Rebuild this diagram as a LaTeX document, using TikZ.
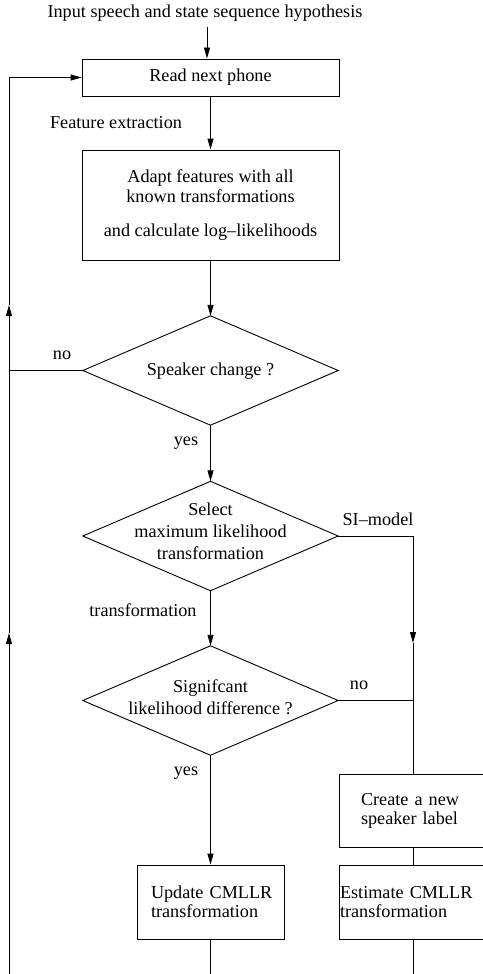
\documentclass[tikz,border=0pt]{standalone}
\usepackage{fontspec}
\setmainfont{Liberation Serif}
\usetikzlibrary{arrows.meta}
\begin{document}
\hyphenpenalty=10000
\exhyphenpenalty=10000
\begin{tikzpicture}[x=1pt,y=-1pt,
  ln/.style={line width=0.9pt},
  arr/.style={ln,-{Triangle[length=11pt,width=6pt]}},
  box/.style={draw,ln,rectangle,inner sep=0pt,font=\fontsize{18.2}{20}\selectfont,align=center},
  rbox/.style={draw,ln,rectangle,inner sep=0pt,font=\fontsize{18.2}{19}\selectfont,align=left},
  dia/.style={rectangle,inner sep=0pt,minimum width=255pt,minimum height=109pt},
  txt/.style={inner sep=0pt,font=\fontsize{18.2}{22}\selectfont,align=center},
  lbl/.style={inner sep=0pt,font=\fontsize{18.2}{20}\selectfont}]
\useasboundingbox (0,0) rectangle (482,974);

\node[lbl] (inp) at (205,13) {Input speech and state sequence hypothesis};
\node[box,minimum width=257pt,minimum height=37pt] (read) at (210.5,77.5) {Read next phone};
\node[lbl] (fe) at (116,123) {Feature extraction};
\node[box,minimum width=257pt,minimum height=110pt] (adapt) at (210.5,205) {Adapt features with all\\known transformations\\[14pt]and calculate log--likelihoods};

\node[dia] (sc) at (210.5,370.5) {};
\node[txt] (sct) at (210.5,371) {Speaker change ?};
\node[dia] (sel) at (210.5,536) {};
\node[txt] (selt) at (210.5,531) {Select\\maximum likelihood\\transformation};
\node[dia] (sig) at (210.5,700.5) {};
\node[txt] (sigt) at (210.5,697) {Signifcant\\likelihood difference ?};
\foreach \d in {sc,sel,sig}
  \draw[ln] (\d.north) -- (\d.east) -- (\d.south) -- (\d.west) -- cycle;

\node[lbl] (no1) at (62,355) {no};
\node[lbl] (yes1) at (186,443) {yes};
\node[lbl] (sim) at (378,519) {SI--model};
\node[lbl] (tr) at (143,610) {transformation};
\node[lbl] (no2) at (359,685) {no};
\node[lbl] (yes2) at (186,773) {yes};

\node[rbox,minimum width=147pt,minimum height=74pt,text width=119pt] (upd) at (210.5,902) {Update~CMLLR\\transformation};
\node[rbox,minimum width=148pt,minimum height=73pt,text width=104pt] (create) at (413,810.5) {Create~a~new\\speaker~label};
\node[rbox,minimum width=148pt,minimum height=74pt,text width=146pt] (est) at (413,902) {Estimate~CMLLR\\transformation};

\coordinate (inA) at (207,27);
\draw[arr] (inA) -- (inA |- read.north);
\draw[arr] (read.south) -- (adapt.north);
\draw[arr] (adapt.south) -- (sc.north);
\draw[arr] (sc.south) -- (sel.north);
\draw[arr] (sel.south) -- (sig.north);
\draw[arr] (sig.south) -- (upd.north);

\coordinate (r1) at (413,536);
\coordinate (r2) at (413,643);
\draw[arr] (sel.east) -- (r1) -- (r2);
\draw[ln] (r2) -- (create.north);
\draw[ln] (sig.east) -- (sig.east -| r1);
\draw[ln] (create.south) -- (est.north);

\coordinate (b1) at (210.5,974);
\coordinate (b2) at (413,974);
\draw[ln] (upd.south) -- (b1);
\draw[ln] (est.south) -- (b2);

\coordinate (l0) at (9,974);
\coordinate (l1) at (9,633);
\coordinate (l2) at (9,370.5);
\coordinate (l3) at (9,305);
\coordinate (l4) at (9,77.5);
\draw[arr] (l0) -- (l1);
\draw[ln] (l1) -- (l2);
\draw[arr] (sc.west) -- (l2) -- (l3);
\draw[arr] (l3) -- (l4) -- (read.west);
\end{tikzpicture}
\end{document}
